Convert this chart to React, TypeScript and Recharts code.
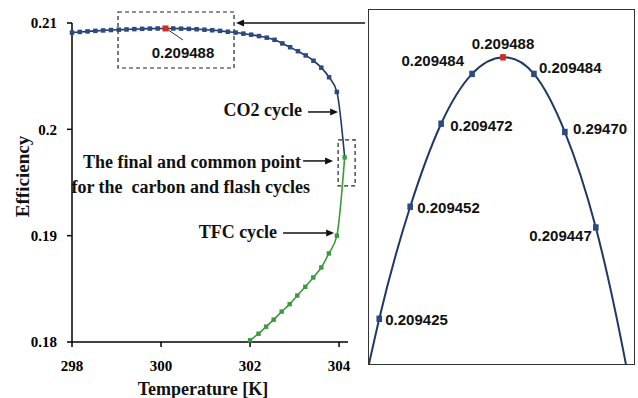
import { LineChart, Line, XAxis, YAxis, ReferenceArea, ReferenceLine } from "recharts";

// CO2 cycle (blue) — temperature [K] and efficiency
const co2Temp = [
  298.0, 298.175, 298.35, 298.525, 298.7, 298.875, 299.05, 299.225, 299.4, 299.575,
  299.75, 299.925, 300.1, 300.275, 300.45, 300.625, 300.8, 300.975, 301.15, 301.325,
  301.5, 301.675, 301.85, 302.025, 302.2, 302.375, 302.55, 302.725, 302.9, 303.075,
  303.25, 303.425, 303.6, 303.775, 303.95, 304.125,
];
const co2Eff = [
  0.2091, 0.20916, 0.20921, 0.20926, 0.2093, 0.20934, 0.20937, 0.209393, 0.209425, 0.209452,
  0.209472, 0.209484, 0.209488, 0.209484, 0.20947, 0.209447, 0.209413, 0.20937, 0.20932, 0.20926,
  0.20918, 0.2091, 0.209, 0.2089, 0.20877, 0.20862, 0.20842, 0.20808, 0.20772, 0.20735,
  0.20695, 0.20645, 0.2058, 0.2049, 0.20352, 0.19736,
];

// TFC cycle (green)
const tfcTemp = [302.0, 302.19, 302.36, 302.53, 302.71, 302.89, 303.06, 303.24, 303.42, 303.6, 303.77, 303.95, 304.125];
const tfcEff = [0.18016, 0.18078, 0.18144, 0.1821, 0.18286, 0.18356, 0.18437, 0.18519, 0.18607, 0.18701, 0.18833, 0.19, 0.19736];

const xTicks = [298, 300, 302, 304];
const yTicks = [0.18, 0.19, 0.2, 0.21];

const peakIndex = 12;
const insetFirst = 8;
const insetLabels = ["0.209425", "0.209452", "0.209472", "0.209484", "0.209488", "0.209484", "0.29470", "0.209447"];

const co2 = co2Temp.map((t, i) => ({ T: t, eff: co2Eff[i] }));
const tfc = tfcTemp.map((t, i) => ({ T: t, eff: tfcEff[i] }));

const NAVY = "#1f3864";
const NAVY_DOT = "#2b4a80";
const GREEN = "#3c9a3c";
const RED = "#d42a1e";
const serif = "'Liberation Serif', 'Times New Roman', serif";
const sans = "'Liberation Sans', Arial, sans-serif";

const serifText = { fontFamily: serif, fontWeight: "bold" as const, fontSize: 18, fill: "#111" };
const sansText = { fontFamily: sans, fontWeight: "bold" as const, fontSize: 15, fill: "#111" };

type Note = { text: string; dx: number; dy: number };

// arrow shape for ReferenceLine segments, optional text left of its tail
function arrow(notes: Note[] = []) {
  return (p: any) => {
    const { x1, y1, x2, y2 } = p;
    const a = Math.atan2(y2 - y1, x2 - x1);
    const L = 8, W = 3.5;
    const bx = x2 - L * Math.cos(a), by = y2 - L * Math.sin(a);
    const pts = `${x2},${y2} ${bx - W * Math.sin(a)},${by + W * Math.cos(a)} ${bx + W * Math.sin(a)},${by - W * Math.cos(a)}`;
    return (
      <g>
        <line x1={x1} y1={y1} x2={bx} y2={by} stroke="#111" strokeWidth={1.5} />
        <polygon points={pts} fill="#111" />
        {notes.map((n) => (
          <text key={n.text} x={x1 + n.dx} y={y1 + n.dy} textAnchor="end" dominantBaseline="central"
            style={{ ...serifText, whiteSpace: "pre" }}>
            {n.text}
          </text>
        ))}
      </g>
    );
  };
}

const leader = (p: any) => (
  <g>
    <line x1={p.x1 + 2} y1={p.y1 + 1} x2={p.x2} y2={p.y2} stroke="#333" strokeWidth={1} />
    <text x={p.x2} y={p.y2 + 12} textAnchor="middle" dominantBaseline="central" style={sansText}>
      {String(co2Eff[peakIndex])}
    </text>
  </g>
);

const mainDot = (p: any) => {
  const { cx, cy, index } = p;
  if (index === co2.length - 1) return <g key={`b${index}`} />;
  const red = index === peakIndex;
  const s = red ? 6 : 4.5;
  return <rect key={`b${index}`} x={cx - s / 2} y={cy - s / 2} width={s} height={s} fill={red ? RED : NAVY_DOT} />;
};

const greenDot = (p: any) => (
  <rect key={`g${p.index}`} x={p.cx - 2.2} y={p.cy - 2.2} width={4.4} height={4.4} fill={GREEN} />
);

// where each inset label sits relative to its marker
const insetPlace: [string, number, number][] = [
  ["start", 6, 1], ["start", 7, 1], ["start", 9, 2], ["end", -8, -13],
  ["middle", 0, -14], ["start", 5, -6], ["start", 8, -4], ["end", -4, 8],
];

const insetDot = (p: any) => {
  const { cx, cy, index } = p;
  const k = index - insetFirst;
  if (k < 0 || k >= insetLabels.length) return <g key={`i${index}`} />;
  const red = index === peakIndex;
  const [anchor, dx, dy] = insetPlace[k];
  return (
    <g key={`i${index}`}>
      <rect x={cx - 2.8} y={cy - 3.2} width={5.6} height={6.4} fill={red ? RED : NAVY_DOT} />
      <text x={cx + dx} y={cy + dy} textAnchor={anchor as any} dominantBaseline="central" style={sansText}>
        {insetLabels[k]}
      </text>
    </g>
  );
};

const effLabel = (p: any) => {
  const vb = p.viewBox;
  const x = vb.x + 22, y = vb.y + vb.height / 2 - 6;
  return (
    <text x={x} y={y} transform={`rotate(-90 ${x} ${y})`} textAnchor="middle" dominantBaseline="central"
      style={{ ...serifText, fontSize: 19 }}>
      Efficiency
    </text>
  );
};

const tickStyle = { fontFamily: serif, fontWeight: "bold" as const, fontSize: 15, fill: "#000" };

export default function App() {
  return (
    <div style={{ position: "absolute", left: 0, top: 0, width: 638, height: 398, background: "#fff" }}>
      <div style={{ position: "absolute", left: 0, top: 0 }}>
        <LineChart width={370} height={398} margin={{ top: 23, right: 22, bottom: 0, left: 0 }}>
          <XAxis
            type="number"
            dataKey="T"
            domain={[298, 304.2]}
            ticks={xTicks}
            tick={tickStyle}
            tickSize={5}
            tickMargin={13}
            height={56}
            stroke="#000"
            strokeWidth={1.5}
            label={{ value: "Temperature [K]", position: "insideBottom", offset: 3, dx: -7, style: { ...serifText, fontSize: 18 } }}
          />
          <YAxis
            type="number"
            domain={[0.18, 0.21]}
            ticks={yTicks}
            tick={tickStyle}
            tickSize={5}
            tickMargin={10}
            width={72}
            stroke="#000"
            strokeWidth={1.5}
            label={effLabel}
          />
          <ReferenceArea x1={299.034} x2={301.64} y1={0.205768} y2={0.211034} ifOverflow="visible"
            fill="none" stroke="#222" strokeWidth={1.2} strokeDasharray="4 3" />
          <ReferenceArea x1={303.978} x2={304.36} y1={0.194678} y2={0.199002} ifOverflow="visible"
            fill="none" stroke="#222" strokeWidth={1.2} strokeDasharray="4 3" />
          <ReferenceLine segment={[{ x: 304.584, y: 0.21 }, { x: 301.685, y: 0.21 }]} ifOverflow="visible" shape={arrow()} />
          <ReferenceLine segment={[{ x: 303.303, y: 0.201633 }, { x: 303.978, y: 0.201633 }]} ifOverflow="visible"
            shape={arrow([{ text: "CO2 cycle", dx: -6, dy: -2 }])} />
          <ReferenceLine segment={[{ x: 303.191, y: 0.197028 }, { x: 303.865, y: 0.197028 }]} ifOverflow="visible"
            shape={arrow([
              { text: "The final and common point", dx: -2, dy: 1 },
              { text: "for the  carbon and flash cycles", dx: 7, dy: 26 },
            ])} />
          <ReferenceLine segment={[{ x: 302.742, y: 0.19026 }, { x: 303.888, y: 0.19026 }]} ifOverflow="visible"
            shape={arrow([{ text: "TFC cycle", dx: -6, dy: -1 }])} />
          <Line data={co2} dataKey="eff" type="monotone" stroke={NAVY} strokeWidth={1.6} dot={mainDot} isAnimationActive={false} />
          <Line data={tfc} dataKey="eff" type="monotone" stroke={GREEN} strokeWidth={1.6} dot={greenDot} isAnimationActive={false} />
          <ReferenceLine segment={[{ x: 300.1, y: 0.209488 }, { x: 300.494, y: 0.208401 }]} ifOverflow="visible" shape={leader} />
        </LineChart>
      </div>
      <div style={{ position: "absolute", left: 368, top: 9, width: 265, height: 354, border: "1.5px solid #333" }}>
        <LineChart width={265} height={354} margin={{ top: 0, right: 0, bottom: 0, left: 0 }}>
          <XAxis type="number" dataKey="T" domain={[299.342, 300.841]} allowDataOverflow hide />
          <YAxis type="number" domain={[0.2094141, 0.2094994]} allowDataOverflow hide />
          <Line data={co2} dataKey="eff" type="natural" stroke={NAVY} strokeWidth={2} dot={insetDot} isAnimationActive={false} />
        </LineChart>
      </div>
    </div>
  );
}
